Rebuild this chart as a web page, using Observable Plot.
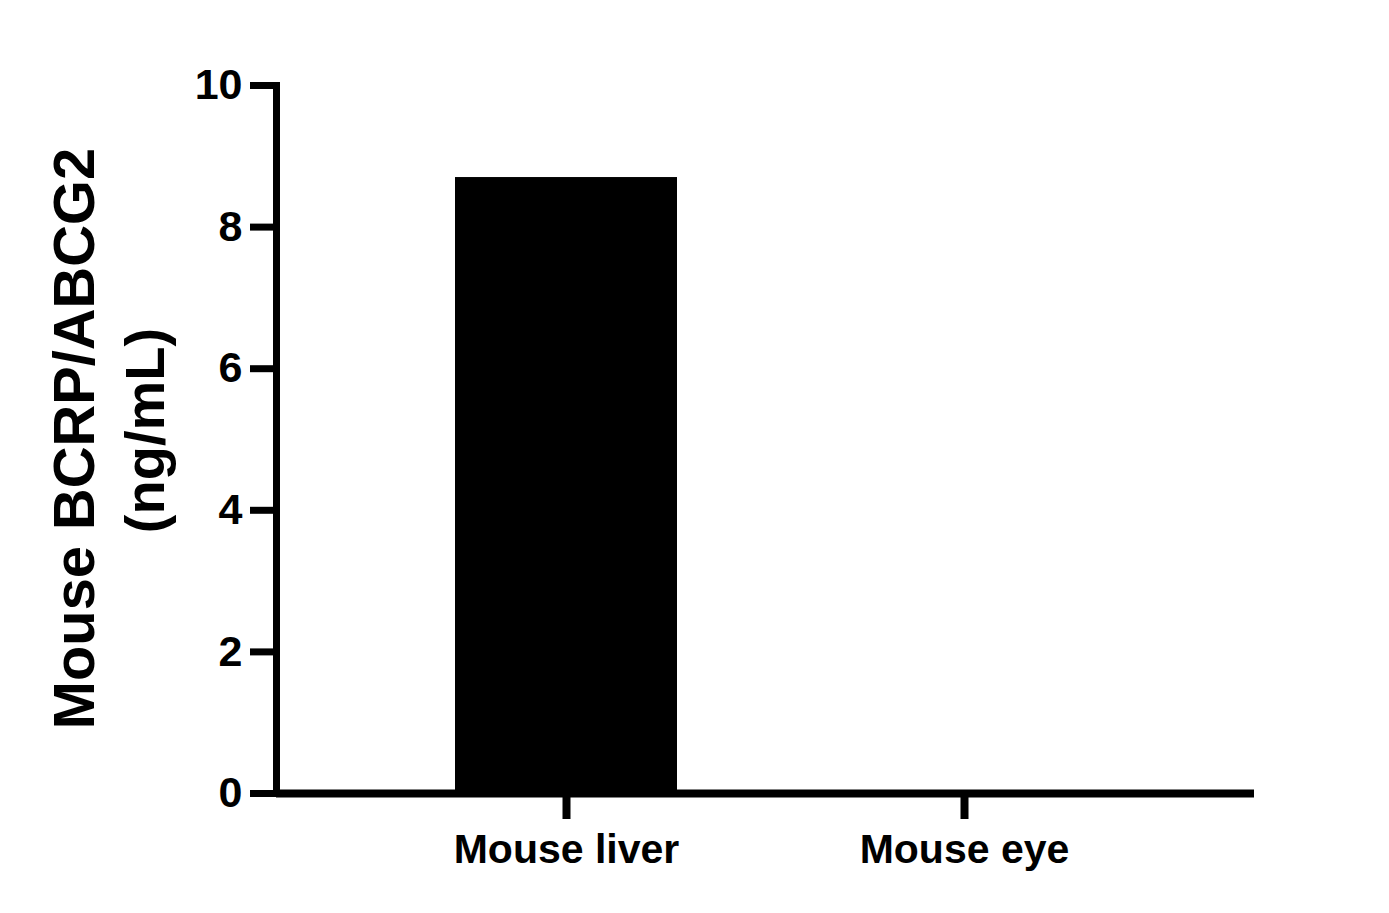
<!DOCTYPE html>
<html>
<head>
<meta charset="utf-8">
<script src="https://cdn.jsdelivr.net/npm/d3@7"></script>
<script src="https://cdn.jsdelivr.net/npm/@observablehq/plot@0.6"></script>
<style>
  html, body { margin: 0; padding: 0; background: #fff; }
  #chart svg { display: block; }
</style>
</head>
<body>
<div id="chart"></div>
<script>
const categories = ["Mouse liver", "Mouse eye"];
const values = [8.7, 0];
const yTicks = [0, 2, 4, 6, 8, 10];
const yLabelLine1 = "Mouse BCRP/ABCG2";
const yLabelLine2 = "(ng/mL)";

const data = categories.map((c, i) => ({cat: c, value: values[i]}));
const font = "'Liberation Sans', Arial, Helvetica, sans-serif";

const chart = Plot.plot({
  width: 1389,
  height: 913,
  marginLeft: 276,
  marginRight: 135,
  marginTop: 85,
  marginBottom: 120,
  style: {background: "#fff", fontFamily: font, color: "#000"},
  x: {domain: categories, paddingInner: 0.443, paddingOuter: 0.45, label: null},
  y: {domain: [0, 10], label: null},
  marks: [
    Plot.barY(data, {x: "cat", y: "value", fill: "#000"}),
    Plot.frame({anchor: "left", stroke: "#000", strokeWidth: 7, strokeLinecap: "square"}),
    Plot.ruleY([0], {stroke: "#000", strokeWidth: 8}),
    Plot.axisY({ticks: yTicks, tickSize: 26, tickPadding: 8, strokeWidth: 7, fontSize: 43, fontWeight: "bold", label: null, tickFormat: d => String(d)}),
    Plot.axisX({tickSize: 26, tickPadding: 14, strokeWidth: 8, fontSize: 41, fontWeight: "bold", label: null}),
    Plot.text([yLabelLine1], {frameAnchor: "left", textAnchor: "middle", lineAnchor: "middle", rotate: -90, dx: -201, dy: -1, fontSize: 57.8, fontWeight: "bold", fill: "#000"}),
    Plot.text([yLabelLine2], {frameAnchor: "left", textAnchor: "middle", lineAnchor: "middle", rotate: -90, dx: -130, dy: -9, fontSize: 56, fontWeight: "bold", fill: "#000"})
  ]
});
document.getElementById("chart").appendChild(chart);
</script>
</body>
</html>
